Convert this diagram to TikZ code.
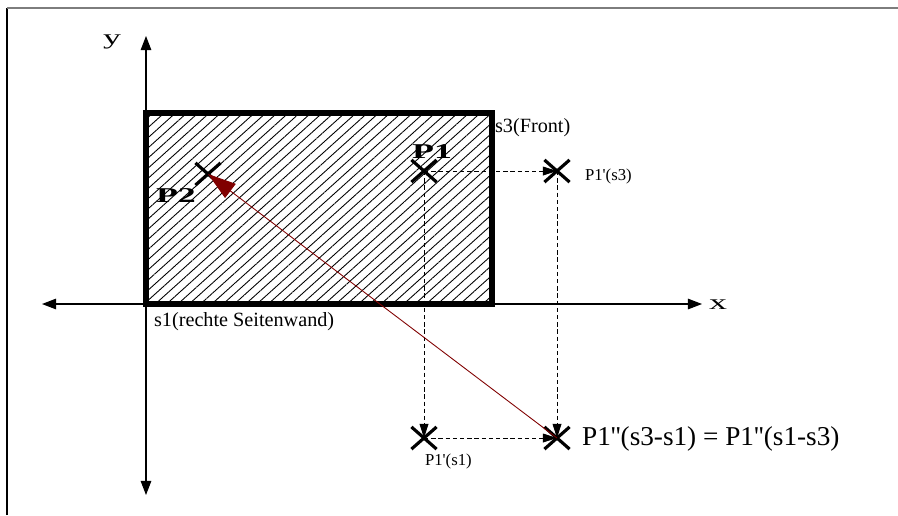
\documentclass[tikz,border=0pt]{standalone}
\usepackage{fontspec}
\setmainfont{Liberation Serif}
\usetikzlibrary{positioning,arrows.meta,patterns.meta,shapes.misc}
\definecolor{pfeilRot}{RGB}{128,0,0}
\definecolor{rahmenGrau}{RGB}{125,125,125}
\newcommand{\breit}[1]{\scalebox{1.7}[1]{#1}}
\newcommand{\strich}{\textquotesingle}

\begin{document}
\begin{tikzpicture}[
    x=0.02cm, y=-0.02cm,
    kreuz/.style={cross out, draw, line width=1.8pt, minimum width=0.44cm, minimum height=0.38cm, inner sep=0pt},
    achse/.style={{Triangle[length=8pt,width=6pt]}-{Triangle[length=8pt,width=6pt]}, line width=0.6pt},
    proj/.style={-{Triangle[length=8pt,width=5pt]}, dash pattern=on 2.5pt off 1.6pt, line width=0.5pt},
    klein/.style={font=\fontsize{9.5}{11}\selectfont, inner sep=1pt},
    mittel/.style={font=\fontsize{11.5}{13}\selectfont, inner sep=1pt},
    punkt/.style={font=\bfseries\large, inner sep=1pt},
]
\useasboundingbox (0,0) rectangle (898,515);

% Rahmen
\draw[line width=0.8pt] (7,515) -- (7,8);
\draw[rahmenGrau, line width=0.8pt] (7,8) -- (898,8);

% Achsen
\coordinate (xl) at (42,304);
\coordinate (xr) at (702,304);
\coordinate (yo) at (146,36);
\coordinate (yu) at (146,495);
\draw[achse] (xl) -- (xr);
\draw[achse] (yu) -- (yo);
\node[font=\large] (xlab) at (718,305) {\breit{x}};
\node[font=\large] (ylab) at (112,42) {\breit{y}};

% Wand (schraffiert)
\draw[pattern={Lines[angle=42, distance=4.3pt, line width=0.5pt]}, line width=3.3pt] (146,113) rectangle (492,304);
\node[mittel, anchor=west] (s3) at (493,128) {s3(Front)};
\node[mittel, anchor=west] (s1) at (152,322) {s1(rechte Seitenwand)};

% Punkte
\node[kreuz] (p1) at (424,171) {};
\node[kreuz] (p1s3) at (557,171) {};
\node[kreuz] (p1s1) at (424,438) {};
\node[kreuz] (p1ss) at (557,438) {};
\node[kreuz] (p2) at (208,174) {};

\node[punkt] (p1lab) at (432,152) {\breit{P1}};
\node[punkt] (p2lab) at (176,196) {\breit{P2}};
\node[klein, anchor=west] (p1s3lab) at (583,176) {P1\strich(s3)};
\node[klein, anchor=west] (p1s1lab) at (423,461) {P1\strich(s1)};
\node[font=\fontsize{15.5}{18}\selectfont, inner sep=1pt, anchor=west] (p1sslab) at (580,439) {P1\strich\strich(s3-s1) = P1\strich\strich(s1-s3)};

% Projektionen
\draw[proj] (p1.center) -- (p1s3.center);
\draw[proj] (p1.center) -- (p1s1.center);
\draw[proj] (p1s3.center) -- (p1ss.center);
\draw[proj] (p1s1.center) -- (p1ss.center);
\draw[-{Triangle[length=16pt,width=10pt]}, pfeilRot, line width=0.5pt] (p1ss.center) -- (p2.center);
\end{tikzpicture}
\end{document}
